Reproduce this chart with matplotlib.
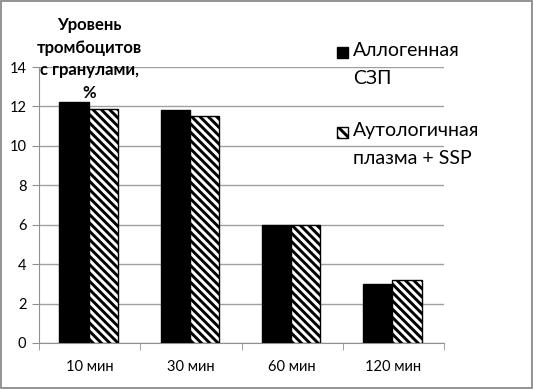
import matplotlib.pyplot as plt
import matplotlib.patches as mpatches
import numpy as np

plt.rcParams['font.family'] = ['Lato', 'DejaVu Sans']
plt.rcParams['hatch.linewidth'] = 2.1

categories = ['10 мин', '30 мин', '60 мин', '120 мин']
allogen = [12.2, 11.8, 6.0, 2.98]
autolog = [11.85, 11.5, 6.0, 3.22]
series_labels = ['Аллогенная\nСЗП', 'Аутологичная\nплазма + SSP']
y_title = 'Уровень\nтромбоцитов\nс гранулами,\n%'

W, H = 533, 389
fig = plt.figure(figsize=(5.33, 3.89), dpi=100)
ax = fig.add_axes([39 / W, 1 - 343 / H, 405 / W, 276 / H])

hatch = '\\\\\\\\'
x = np.arange(len(categories))
w = 0.29
ax.bar(x - w / 2 - 0.01, allogen, w, color='black', edgecolor='black', linewidth=1, zorder=3)
ax.bar(x + w / 2 - 0.01, autolog, w, color='white', edgecolor='black', hatch=hatch, linewidth=1, zorder=3)

ax.set_xlim(-0.5, 3.5)
ax.set_ylim(0, 14)
ax.set_yticks(range(0, 15, 2))
ax.yaxis.grid(True, color='#a0a0a0', linewidth=1)
ax.set_axisbelow(True)

ax.set_xticks(x)
ax.set_xticklabels(categories, fontsize=10.5)
ax.set_xticks(np.arange(-0.5, 4, 1), minor=True)
ax.tick_params(axis='x', which='major', length=0, pad=12)
ax.tick_params(axis='x', which='minor', length=5, color='#909090')
ax.tick_params(axis='y', length=5, color='#909090', labelsize=10.5, pad=4)

for s in ['top', 'right']:
    ax.spines[s].set_visible(False)
for s in ['left', 'bottom']:
    ax.spines[s].set_color('#909090')

fig.text(89 / W, 1 - 17 / H, y_title, ha='center', va='top', fontsize=12,
         fontweight='bold', linespacing=1.5)

# legend drawn by hand to match the loose two-line layout
leg_y = [52, 132]
for lab, yy, style in zip(series_labels, leg_y, [dict(facecolor='black'), dict(facecolor='white', hatch='\\\\\\')]):
    fig.patches.append(mpatches.Rectangle((337 / W, 1 - (yy + 6) / H), 11 / W, 11 / H,
                                          transform=fig.transFigure, edgecolor='black',
                                          linewidth=1, **style))
    fig.text(353 / W, 1 - (yy - 10) / H, lab, ha='left', va='top', fontsize=14, linespacing=1.75)

fig.patches.append(mpatches.Rectangle((0.002, 0.002), 0.996, 0.996, transform=fig.transFigure,
                                      fill=False, edgecolor='#808080', linewidth=1.2))

fig.savefig('out.png', dpi=100)
